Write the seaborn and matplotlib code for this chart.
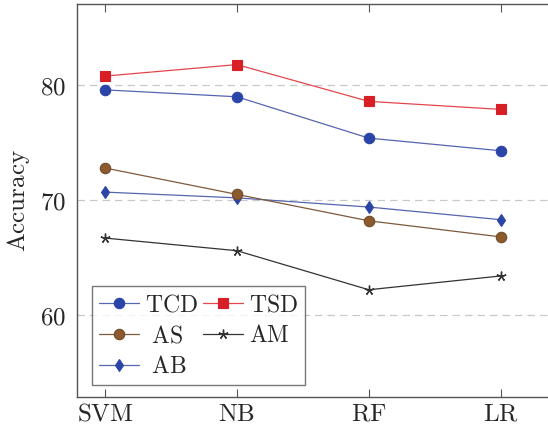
import matplotlib
matplotlib.use("Agg")
import matplotlib.pyplot as plt
import seaborn as sns
import pandas as pd

classifiers = ["SVM", "NB", "RF", "LR"]
tcd = [79.6, 79.0, 75.4, 74.3]
tsd = [80.8, 81.8, 78.6, 77.9]
as_ = [72.8, 70.5, 68.2, 66.8]
am = [66.7, 65.6, 62.2, 63.4]
ab = [70.7, 70.2, 69.4, 68.3]
yticks = [60, 70, 80]

series = {"TCD": tcd, "TSD": tsd, "AS": as_, "AM": am, "AB": ab}
rows = []
for name, vals in series.items():
    for c, v in zip(classifiers, vals):
        rows.append({"clf": c, "acc": v, "series": name})
df = pd.DataFrame(rows)
df["x"] = df["clf"].map({c: i for i, c in enumerate(classifiers)})

sns.set_style("white")
plt.rcParams["font.family"] = ["DejaVu Serif"]
plt.rcParams["mathtext.fontset"] = "cm"


def cm(s):
    return r"$\mathrm{" + s + "}$"


fig = plt.figure(figsize=(5.48, 4.28), dpi=100)
W, H = 548, 428
left, right, top, bottom = 77, 560, 4, 397
ax = fig.add_axes([left / W, 1 - bottom / H, (right - left) / W, (bottom - top) / H])

styles = {
    "TCD": dict(color="#5566b0", mfc="#2b44a8", mec="#2b44a8", marker="o", ms=7.5, mew=0.8),
    "TSD": dict(color="#e3474c", mfc="#d81f26", mec="#d81f26", marker="s", ms=7, mew=0.8),
    "AS": dict(color="#7d5a3c", mfc="#8c5a2c", mec="#6e4a2a", marker="o", ms=7.5, mew=0.8),
    "AM": dict(color="#333333", mfc="#333333", mec="#333333", marker=(5, 2, 0), ms=7, mew=1.0),
    "AB": dict(color="#5566b0", mfc="#2b44a8", mec="#2b44a8", marker="d", ms=6.5, mew=0.8),
}

handles = {}
for name in ["AM", "AB", "AS", "TCD", "TSD"]:
    sub = df[df["series"] == name]
    st = styles[name]
    sns.lineplot(data=sub, x="x", y="acc", ax=ax, color=st["color"], lw=0.9,
                 marker=st["marker"], markersize=st["ms"],
                 markerfacecolor=st["mfc"], markeredgecolor=st["mec"],
                 markeredgewidth=st["mew"], legend=False)
    handles[name] = ax.lines[-1]

px_per_unit = 131.9
x0 = (105 - left) / px_per_unit
ax.set_xlim(-x0, -x0 + (right - left) / px_per_unit)
y_per_px = 10 / 114.9
ax.set_ylim(60 - (bottom - 315) * y_per_px, 80 + (85.3 - top) * y_per_px)

ax.set_xticks(range(len(classifiers)))
ax.set_xticklabels([cm(c) for c in classifiers])
ax.set_yticks(yticks)
ax.set_yticklabels([cm(str(t)) for t in yticks])
ax.yaxis.grid(True, linestyle=(0, (6, 4)), color="#c8c8c8", lw=0.9)
ax.xaxis.grid(False)
ax.tick_params(axis="x", direction="in", length=6, width=0.8, color="#555555",
               top=True, bottom=True, labelsize=18, pad=4)
ax.tick_params(axis="y", length=0, labelsize=18, pad=8)
for sp in ["left", "top", "bottom"]:
    ax.spines[sp].set_color("#555555")
    ax.spines[sp].set_linewidth(1.0)
ax.spines["right"].set_visible(False)
ax.set_xlabel("")
ax.set_ylabel(cm("Accuracy"), fontsize=18, labelpad=6)

order = ["TCD", "AS", "AB", "TSD", "AM"]
labels = {"TCD": cm("TCD"), "AS": cm(r"\ AS"), "AB": cm(r"\ AB"),
          "TSD": cm("TSD"), "AM": cm("AM")}
leg = ax.legend([handles[n] for n in order], [labels[n] for n in order], ncol=2,
                loc="lower left",
                bbox_to_anchor=((92 - left) / (right - left), (bottom - 385) / (bottom - top)),
                fontsize=17, frameon=True, fancybox=False, handlelength=1.7,
                handletextpad=0.25, columnspacing=0.2, labelspacing=0.33,
                borderpad=0.3, borderaxespad=0)
leg.get_frame().set_edgecolor("#555555")
leg.get_frame().set_linewidth(1.0)

fig.savefig("out.png", dpi=100)
